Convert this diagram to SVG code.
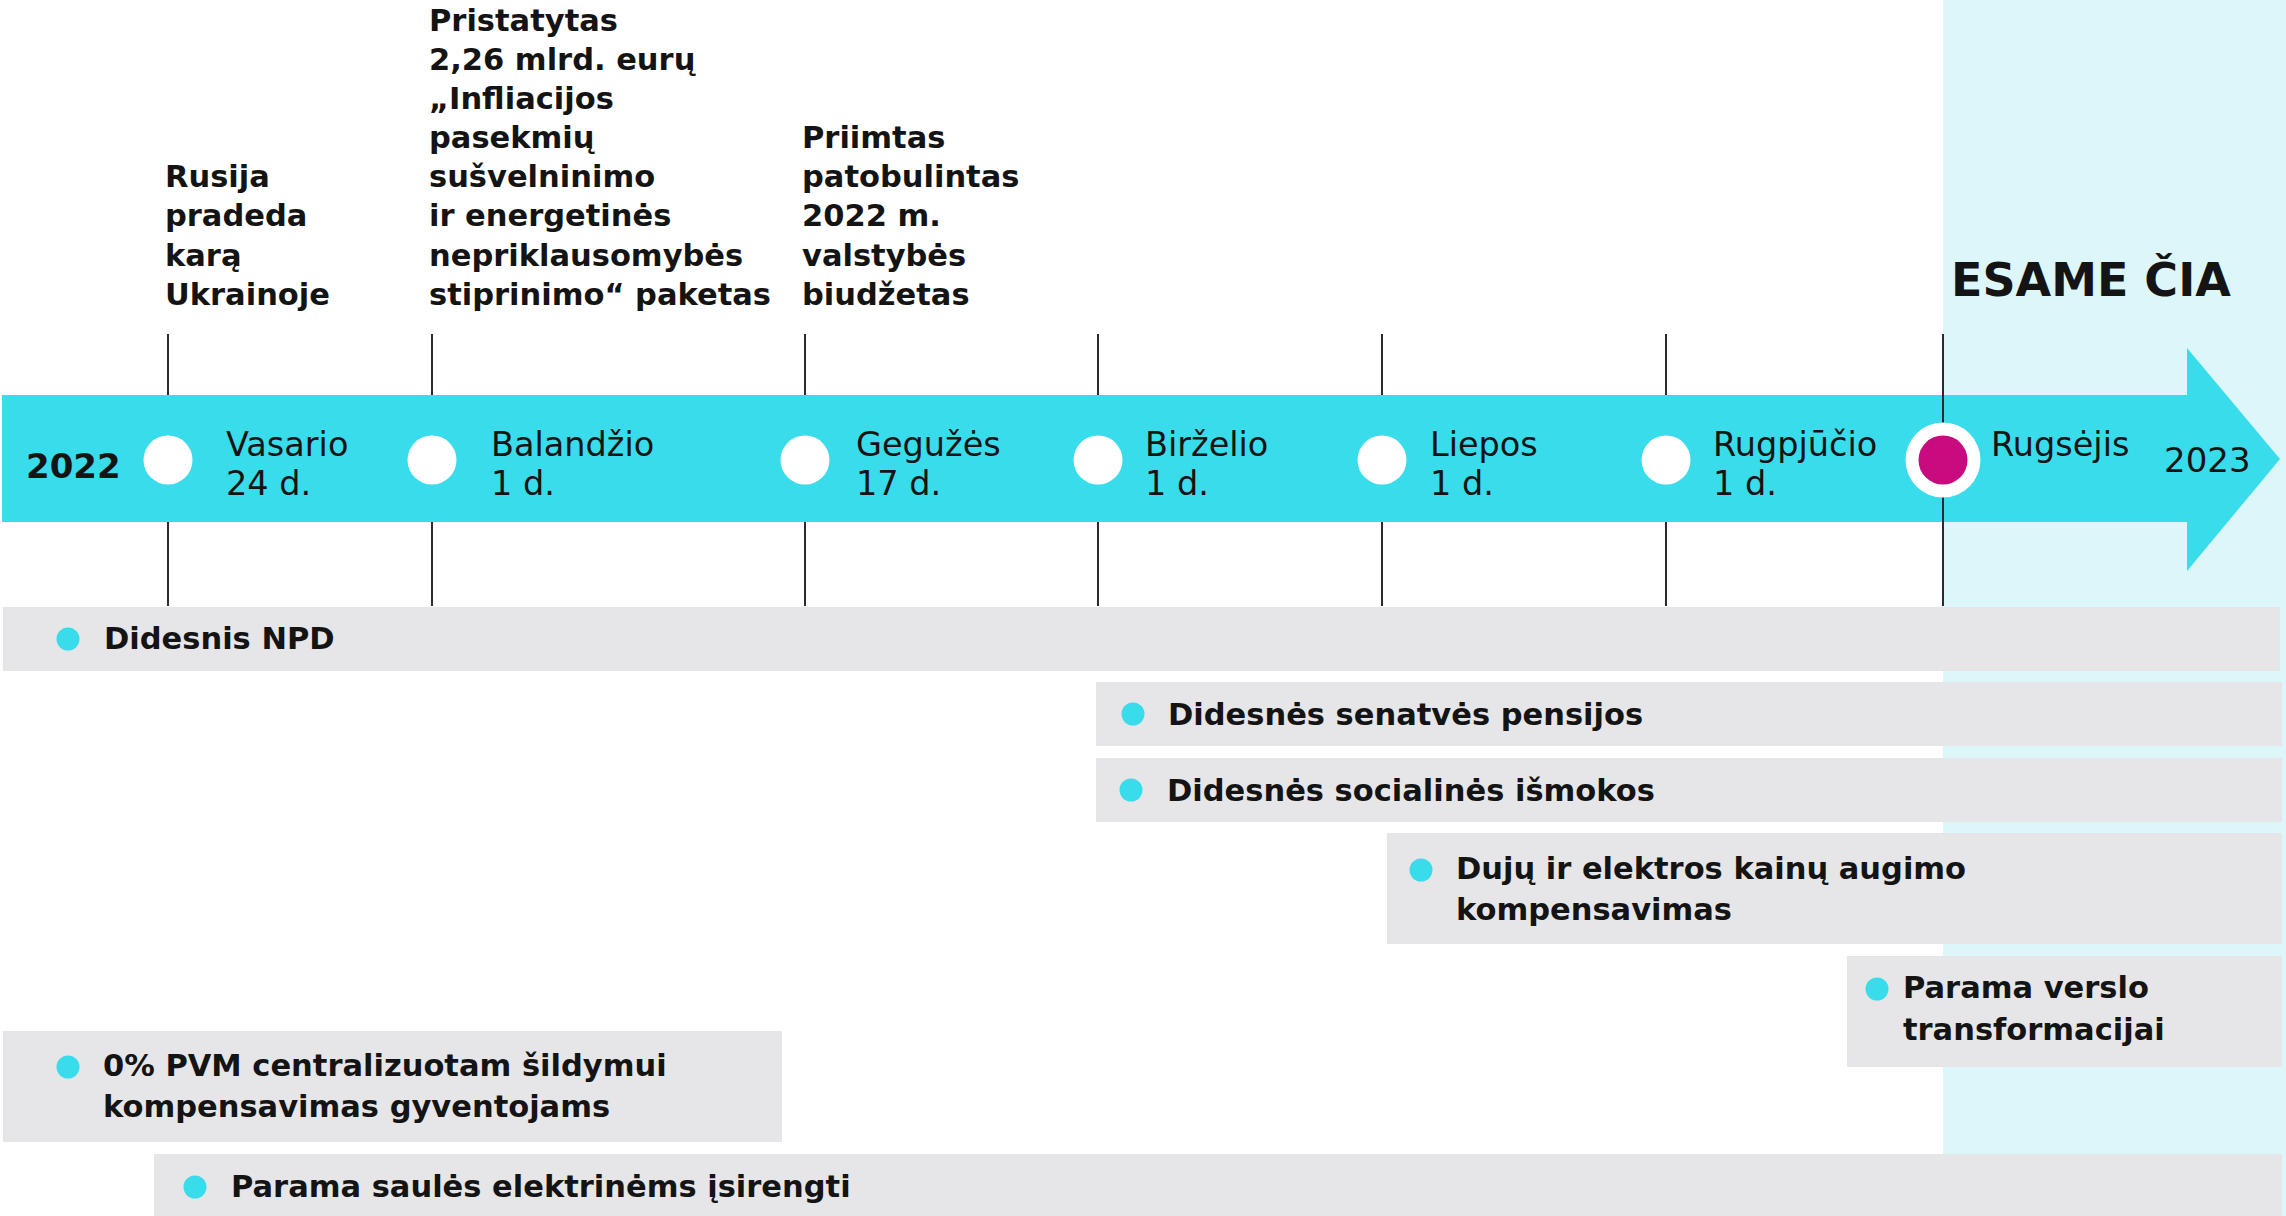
<svg xmlns="http://www.w3.org/2000/svg" width="2286" height="1216" viewBox="0 0 2286 1216">
<style>
.t{font-family:"DejaVu Sans","Liberation Sans",sans-serif;fill:#141414}
.ev{font-size:30.5px;font-weight:bold}
.mo{font-size:33.5px}
.bl{font-size:30.5px;font-weight:bold}
.bar{fill:#E6E6E9}
.dot{fill:#38DCEA}
.wc{fill:#FFFFFF}
.tick{stroke:#2B2B2B;stroke-width:2;fill:none}
</style>
<rect x="0" y="0" width="2286" height="1216" fill="#FFFFFF"/>
<rect id="now-zone" x="1943" y="0" width="343" height="1216" fill="#DDF6F9"/>

<g id="timeline-arrow">
<path d="M2 395 H2187 V348 L2280 459 L2187 571 V522 H2 Z" fill="#38DCEA"/>
</g>

<g id="connectors">
<line class="tick" x1="168" y1="334" x2="168" y2="395"/>
<line class="tick" x1="168" y1="522" x2="168" y2="606"/>
<line class="tick" x1="432" y1="334" x2="432" y2="395"/>
<line class="tick" x1="432" y1="522" x2="432" y2="606"/>
<line class="tick" x1="805" y1="334" x2="805" y2="395"/>
<line class="tick" x1="805" y1="522" x2="805" y2="606"/>
<line class="tick" x1="1098" y1="334" x2="1098" y2="395"/>
<line class="tick" x1="1098" y1="522" x2="1098" y2="606"/>
<line class="tick" x1="1382" y1="334" x2="1382" y2="395"/>
<line class="tick" x1="1382" y1="522" x2="1382" y2="606"/>
<line class="tick" x1="1666" y1="334" x2="1666" y2="395"/>
<line class="tick" x1="1666" y1="522" x2="1666" y2="606"/>
<line class="tick" x1="1943" y1="334" x2="1943" y2="606"/>
</g>

<g id="year-2022"><text class="t" x="26" y="478" font-size="34" font-weight="bold">2022</text></g>
<g id="year-2023"><text class="t" x="2164" y="472" font-size="34">2023</text></g>
<g id="esame-cia"><text class="t" x="1951" y="296" font-size="46" font-weight="bold">ESAME ČIA</text></g>

<g id="m-vasario">
<circle class="wc" cx="168" cy="460" r="24.5"/>
<text class="t mo" x="226" y="456">Vasario</text>
<text class="t mo" x="226" y="495">24 d.</text>
</g>
<g id="m-balandzio">
<circle class="wc" cx="432" cy="460" r="24.5"/>
<text class="t mo" x="491" y="456">Balandžio</text>
<text class="t mo" x="491" y="495">1 d.</text>
</g>
<g id="m-geguzes">
<circle class="wc" cx="805" cy="460" r="24.5"/>
<text class="t mo" x="856" y="456">Gegužės</text>
<text class="t mo" x="856" y="495">17 d.</text>
</g>
<g id="m-birzelio">
<circle class="wc" cx="1098" cy="460" r="24.5"/>
<text class="t mo" x="1145" y="456">Birželio</text>
<text class="t mo" x="1145" y="495">1 d.</text>
</g>
<g id="m-liepos">
<circle class="wc" cx="1382" cy="460" r="24.5"/>
<text class="t mo" x="1430" y="456">Liepos</text>
<text class="t mo" x="1430" y="495">1 d.</text>
</g>
<g id="m-rugpjucio">
<circle class="wc" cx="1666" cy="460" r="24.5"/>
<text class="t mo" x="1713" y="456">Rugpjūčio</text>
<text class="t mo" x="1713" y="495">1 d.</text>
</g>
<g id="m-rugsejis">
<circle class="wc" cx="1943" cy="460" r="37.5"/>
<circle cx="1943" cy="460" r="24.5" fill="#C90B80"/>
<text class="t mo" x="1991" y="456">Rugsėjis</text>
</g>

<g id="ev-rusija">
<text class="t ev" x="165" y="187">Rusija</text>
<text class="t ev" x="165" y="226">pradeda</text>
<text class="t ev" x="165" y="266">karą</text>
<text class="t ev" x="165" y="305">Ukrainoje</text>
</g>
<g id="ev-pristatytas">
<text class="t ev" x="429" y="31">Pristatytas</text>
<text class="t ev" x="429" y="70">2,26 mlrd. eurų</text>
<text class="t ev" x="429" y="109">„Infliacijos</text>
<text class="t ev" x="429" y="148">pasekmių</text>
<text class="t ev" x="429" y="187">sušvelninimo</text>
<text class="t ev" x="429" y="226">ir energetinės</text>
<text class="t ev" x="429" y="266">nepriklausomybės</text>
<text class="t ev" x="429" y="305">stiprinimo“ paketas</text>
</g>
<g id="ev-priimtas">
<text class="t ev" x="802" y="148">Priimtas</text>
<text class="t ev" x="802" y="187">patobulintas</text>
<text class="t ev" x="802" y="226">2022 m.</text>
<text class="t ev" x="802" y="266">valstybės</text>
<text class="t ev" x="802" y="305">biudžetas</text>
</g>

<g id="bar-npd">
<rect class="bar" x="3" y="607" width="2277" height="64"/>
<circle class="dot" cx="68" cy="639" r="11.5"/>
<text class="t bl" x="104" y="649">Didesnis NPD</text>
</g>
<g id="bar-pensijos">
<rect class="bar" x="1096" y="682" width="1186" height="64"/>
<circle class="dot" cx="1133" cy="714" r="11.5"/>
<text class="t bl" x="1168" y="725">Didesnės senatvės pensijos</text>
</g>
<g id="bar-ismokos">
<rect class="bar" x="1096" y="758" width="1186" height="64"/>
<circle class="dot" cx="1131" cy="790" r="11.5"/>
<text class="t bl" x="1167" y="801">Didesnės socialinės išmokos</text>
</g>
<g id="bar-duju">
<rect class="bar" x="1387" y="833" width="895" height="111"/>
<circle class="dot" cx="1421" cy="870" r="11.5"/>
<text class="t bl" x="1456" y="879">Dujų ir elektros kainų augimo</text>
<text class="t bl" x="1456" y="920">kompensavimas</text>
</g>
<g id="bar-verslo">
<rect class="bar" x="1847" y="956" width="435" height="111"/>
<circle class="dot" cx="1877" cy="989" r="11.5"/>
<text class="t bl" x="1903" y="998">Parama verslo</text>
<text class="t bl" x="1903" y="1040">transformacijai</text>
</g>
<g id="bar-pvm">
<rect class="bar" x="3" y="1031" width="779" height="111"/>
<circle class="dot" cx="68" cy="1067" r="11.5"/>
<text class="t bl" x="103" y="1076">0% PVM centralizuotam šildymui</text>
<text class="t bl" x="103" y="1117">kompensavimas gyventojams</text>
</g>
<g id="bar-saules">
<rect class="bar" x="154" y="1154" width="2128" height="62"/>
<circle class="dot" cx="195" cy="1187" r="11.5"/>
<text class="t bl" x="231" y="1197">Parama saulės elektrinėms įsirengti</text>
</g>
</svg>
